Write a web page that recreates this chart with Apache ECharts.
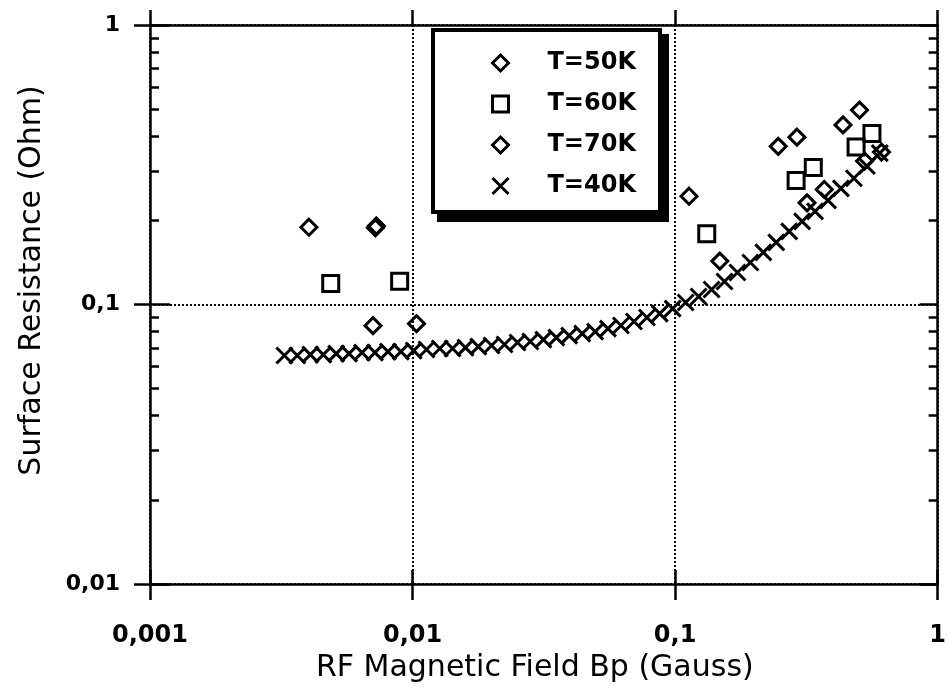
<!DOCTYPE html>
<html>
<head>
<meta charset="utf-8">
<script src="https://cdn.jsdelivr.net/npm/echarts@6/dist/echarts.min.js"></script>
<style>
  html, body { margin: 0; padding: 0; background: #fff; }
  #chart { width: 949px; height: 694px; }
</style>
</head>
<body>
<div id="chart"></div>
<script>
// values (field in Gauss, resistance in Ohm)
var legendNames = ['T=50K', 'T=60K', 'T=70K', 'T=40K'];

var t50K = [[0.00707, 0.084], [0.01035, 0.0854], [0.148, 0.143], [0.318, 0.231],
            [0.370, 0.258], [0.527, 0.326], [0.611, 0.351]];
var t60K = [[0.00488, 0.119], [0.00893, 0.121], [0.132, 0.179], [0.289, 0.278],
            [0.336, 0.309], [0.489, 0.366], [0.562, 0.409]];
var t70K = [[0.00403, 0.189], [0.00722, 0.188], [0.00728, 0.191], [0.113, 0.244],
            [0.247, 0.368], [0.291, 0.397], [0.436, 0.439], [0.504, 0.496]];

var t40K_B = [0.00325, 0.00364, 0.00408, 0.00457, 0.00512, 0.00573, 0.00642, 0.00719,
              0.00806, 0.00903, 0.0101, 0.0113, 0.0127, 0.0142, 0.0159, 0.0178,
              0.0200, 0.0224, 0.0251, 0.0281, 0.0315, 0.0353, 0.0395, 0.0443,
              0.0496, 0.0555, 0.0622, 0.0697, 0.0781, 0.0874, 0.0979, 0.1097,
              0.1229, 0.1377, 0.1542, 0.1728, 0.1935, 0.2168, 0.2428, 0.2720,
              0.3047, 0.3413, 0.3823, 0.4283, 0.4797, 0.5374, 0.6020];
var t40K_R = [0.0657, 0.0657, 0.0662, 0.0662, 0.0667, 0.0667, 0.0673, 0.0673,
              0.0678, 0.0678, 0.0684, 0.0690, 0.0696, 0.0696, 0.0701, 0.0707,
              0.0713, 0.0719, 0.0731, 0.0737, 0.0749, 0.0761, 0.0774, 0.0787,
              0.0800, 0.0820, 0.0841, 0.0869, 0.0898, 0.0928, 0.0967, 0.1017,
              0.1068, 0.1132, 0.1209, 0.1302, 0.1414, 0.1536, 0.1668, 0.1826,
              0.1983, 0.2154, 0.2359, 0.2604, 0.2830, 0.3130, 0.3480];

var minorTicks = [0.02, 0.03, 0.04, 0.05, 0.06, 0.07, 0.08, 0.09,
                  0.2, 0.3, 0.4, 0.5, 0.6, 0.7, 0.8, 0.9];

var t40K = t40K_B.map(function (b, i) { return [b, t40K_R[i]]; });

var FONT = 'DejaVu Sans';
var fmt = function (v) { return String(+v.toPrecision(6)).replace('.', ','); };
var hollow = { color: 'rgba(0,0,0,0)', borderColor: '#000', borderWidth: 3, opacity: 1 };
var blackLine = { color: '#000', width: 2.5 };
var dotted = { show: true, lineStyle: { color: '#000', width: 2, type: [2, 2] } };

function logX(extra) {
    return Object.assign({ type: 'log', logBase: 10, min: 0.001, max: 1,
        axisLine: { show: false }, axisTick: { show: false },
        axisLabel: { show: false }, splitLine: { show: false } }, extra);
}
function logY(extra) {
    return Object.assign({ type: 'log', logBase: 10, min: 0.01, max: 1,
        axisLine: { show: false }, axisTick: { show: false },
        axisLabel: { show: false }, splitLine: { show: false } }, extra);
}

var chart = echarts.init(document.getElementById('chart'), null, { renderer: 'canvas' });
chart.setOption({
    animation: false,
    backgroundColor: '#fff',
    grid: { left: 150, right: 8, top: 25, bottom: 110 },
    // legend frame with its heavy drop shadow
    graphic: [
        { type: 'rect', z: 5, shape: { x: 437, y: 34, width: 232, height: 188 },
          style: { fill: '#000' } },
        { type: 'rect', z: 6, shape: { x: 433, y: 30, width: 227, height: 182 },
          style: { fill: '#fff', stroke: '#000', lineWidth: 4 } }
    ],
    legend: {
        orient: 'vertical',
        left: 491, top: 51,
        padding: 0,
        z: 10,
        itemWidth: 16, itemHeight: 16, itemGap: 17,
        selectedMode: false,
        itemStyle: { opacity: 1, borderWidth: 3 },
        textStyle: { fontFamily: FONT, fontWeight: 'bold', fontSize: 24, color: '#000',
                     lineHeight: 24, padding: [0, 0, 0, 34] },
        data: legendNames
    },
    xAxis: [
        logX({ position: 'bottom',
            name: 'RF Magnetic Field Bp (Gauss)', nameLocation: 'middle', nameGap: 51,
            nameTextStyle: { fontFamily: FONT, fontSize: 30, color: '#000', padding: [0, 18, 0, 0] },
            axisLine: { show: true, lineStyle: blackLine },
            axisTick: { show: true, length: 16, lineStyle: blackLine },
            axisLabel: { show: true, margin: 40, fontFamily: FONT, fontWeight: 'bold',
                         fontSize: 24, color: '#000', formatter: fmt },
            splitLine: dotted }),
        logX({ position: 'bottom', axisTick: { show: true, inside: true, length: 14, lineStyle: blackLine } }),
        logX({ position: 'top', axisLine: { show: true, lineStyle: blackLine },
            axisTick: { show: true, length: 15, lineStyle: blackLine } })
    ],
    yAxis: [
        logY({ position: 'left',
            name: 'Surface Resistance (Ohm)', nameLocation: 'middle', nameGap: 103,
            nameTextStyle: { fontFamily: FONT, fontSize: 30, color: '#000', padding: [0, 0, 0, 48] },
            axisLine: { show: true, lineStyle: blackLine },
            axisTick: { show: true, length: 16, lineStyle: blackLine },
            axisLabel: { show: true, margin: 30, fontFamily: FONT, fontWeight: 'bold',
                         fontSize: 22, color: '#000', formatter: fmt },
            splitLine: dotted }),
        logY({ position: 'left', axisTick: { show: true, inside: true, length: 20, lineStyle: blackLine } }),
        logY({ position: 'left', axisTick: { show: true, inside: true, length: 9,
            customValues: minorTicks, lineStyle: blackLine } }),
        logY({ position: 'right', axisLine: { show: true, lineStyle: blackLine },
            axisTick: { show: true, inside: true, length: 18, lineStyle: blackLine } }),
        logY({ position: 'right', axisTick: { show: true, inside: true, length: 9,
            customValues: minorTicks, lineStyle: blackLine } })
    ],
    series: [
        { name: 'T=40K', type: 'scatter', data: t40K, symbol: 'path://M0,0L10,10M0,10L10,0',
          symbolSize: 16, itemStyle: hollow, emphasis: { disabled: true }, z: 2 },
        { name: 'T=50K', type: 'scatter', data: t50K, symbol: 'diamond', symbolSize: 16,
          itemStyle: hollow, emphasis: { disabled: true }, z: 3 },
        { name: 'T=60K', type: 'scatter', data: t60K, symbol: 'rect', symbolSize: 16,
          itemStyle: hollow, emphasis: { disabled: true }, z: 3 },
        { name: 'T=70K', type: 'scatter', data: t70K, symbol: 'diamond', symbolSize: 16,
          itemStyle: hollow, emphasis: { disabled: true }, z: 3 }
    ]
});
</script>
</body>
</html>
